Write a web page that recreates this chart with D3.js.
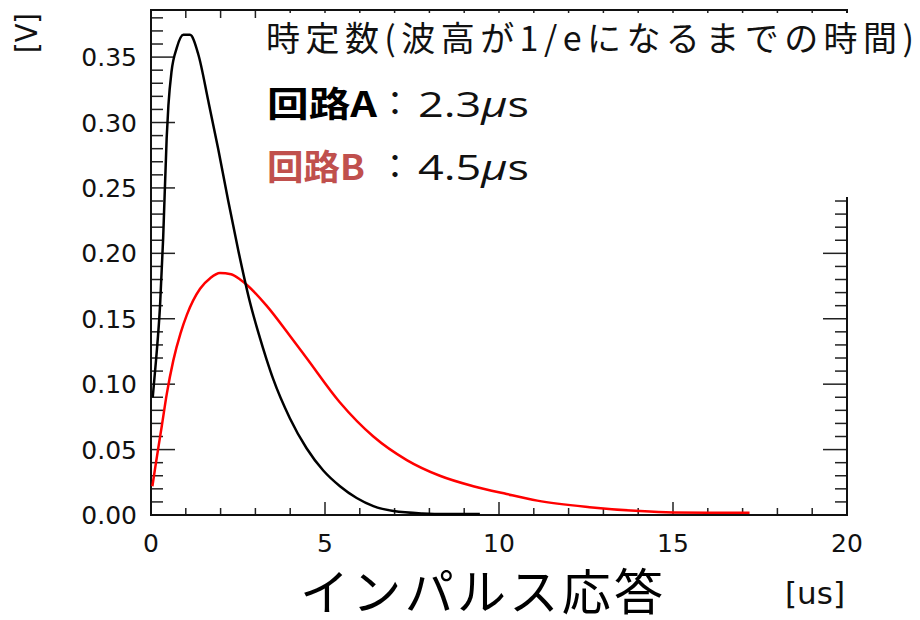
<!DOCTYPE html>
<html><head><meta charset="utf-8">
<script src="https://cdn.jsdelivr.net/npm/d3@7"></script>
<style>
html,body{margin:0;padding:0;background:#fff;}
svg{display:block;}
</style></head>
<body>
<svg id="chart" width="920" height="620"></svg>
<script>
// ---- data ----
const timeA = [0.05, 0.15, 0.26, 0.35, 0.45, 0.50, 0.59, 0.74, 0.93, 1.12, 1.36, 1.65, 1.93, 2.22, 2.51, 2.84, 3.10, 3.32, 3.51, 3.99, 4.47, 4.95, 5.43, 5.91, 6.39, 6.97, 7.80, 8.50, 9.45];
const voltA = [0.090, 0.120, 0.160, 0.212, 0.288, 0.313, 0.339, 0.357, 0.367, 0.367, 0.352, 0.316, 0.280, 0.240, 0.202, 0.163, 0.138, 0.119, 0.104, 0.074, 0.051, 0.034, 0.022, 0.013, 0.0068, 0.0030, 0.0012, 0.0008, 0.0008];
const timeB = [0.04, 0.12, 0.22, 0.31, 0.45, 0.64, 0.85, 1.03, 1.41, 1.70, 1.98, 2.30, 2.56, 2.75, 3.32, 3.99, 4.47, 5.43, 6.39, 7.35, 8.30, 9.26, 10.22, 11.10, 12.60, 14.05, 15.00, 16.00, 17.20];
const voltB = [0.022, 0.036, 0.053, 0.068, 0.092, 0.118, 0.139, 0.153, 0.173, 0.181, 0.185, 0.184, 0.180, 0.176, 0.160, 0.137, 0.120, 0.086, 0.060, 0.042, 0.030, 0.022, 0.016, 0.011, 0.006, 0.003, 0.002, 0.0018, 0.0018];
const xMajorTicks = [0, 5, 10, 15, 20];
const xTickLabels = ["0", "5", "10", "15", "20"];
const yMajorTicks = [0, 0.05, 0.10, 0.15, 0.20, 0.25, 0.30, 0.35];
const yTickLabels = ["0.00", "0.05", "0.10", "0.15", "0.20", "0.25", "0.30", "0.35"];
const xDomain = [0, 20];
const yDomain = [0, 0.386];
const titleText = "インパルス応答";
const xUnit = "[us]";
const yUnit = "[V]";
const noteHeader = "時定数(波高が1/eになるまでの時間)";
const circuitNames = ["回路A", "回路B"];
const circuitTau = ["2.3", "4.5"];

// ---- layout ----
const L = 151, R = 847, T = 10, B = 515;
const svg = d3.select("#chart");
const x = d3.scaleLinear().domain(xDomain).range([L, R]);
const y = d3.scaleLinear().domain(yDomain).range([B, T]);

const tickColor = "#222";
const labelFont = "DejaVu Sans, sans-serif";

const yMinor = d3.range(0, 0.3801, 0.01).map(v => +v.toFixed(2)).filter(v => Math.round(v * 100) % 5 !== 0);

const g = svg.append("g");

// bottom axis ticks (inward)
g.selectAll(".xb").data(x.ticks(20)).enter().append("line")
  .attr("x1", d => x(d)).attr("x2", d => x(d))
  .attr("y1", B).attr("y2", d => B - (xMajorTicks.includes(d) ? 13 : 7))
  .attr("stroke", tickColor).attr("stroke-width", 1.5);
// top axis ticks
g.selectAll(".xt").data(x.ticks(20)).enter().append("line")
  .attr("x1", d => x(d)).attr("x2", d => x(d))
  .attr("y1", T).attr("y2", d => T + (xMajorTicks.includes(d) ? 13 : 8))
  .attr("stroke", tickColor).attr("stroke-width", 1.5);
// left axis ticks
const yAll = yMajorTicks.concat(yMinor);
g.selectAll(".yl").data(yAll).enter().append("line")
  .attr("x1", L).attr("x2", d => L + (yMajorTicks.includes(d) ? 24 : 12))
  .attr("y1", d => y(d)).attr("y2", d => y(d))
  .attr("stroke", tickColor).attr("stroke-width", 1.5);
// right axis ticks
g.selectAll(".yr").data(yAll).enter().append("line")
  .attr("x1", R).attr("x2", d => R - (yMajorTicks.includes(d) ? 24 : 12))
  .attr("y1", d => y(d)).attr("y2", d => y(d))
  .attr("stroke", tickColor).attr("stroke-width", 1.5);

// frame
g.append("rect").attr("x", L).attr("y", T).attr("width", R - L).attr("height", B - T)
  .attr("fill", "none").attr("stroke", "#111").attr("stroke-width", 2);

// curves
const line = d3.line().x(d => x(d[0])).y(d => y(d[1])).curve(d3.curveMonotoneX);
svg.append("path").datum(timeB.map((t, i) => [t, voltB[i]]))
  .attr("d", line).attr("fill", "none").attr("stroke", "#ff0000").attr("stroke-width", 2.5);
svg.append("path").datum(timeA.map((t, i) => [t, voltA[i]]))
  .attr("d", line).attr("fill", "none").attr("stroke", "#000").attr("stroke-width", 2.5);

// tick labels
svg.selectAll(".xl").data(xMajorTicks).enter().append("text")
  .attr("x", d => x(d)).attr("y", 552)
  .attr("text-anchor", "middle").attr("font-family", labelFont).attr("font-size", 25)
  .attr("fill", "#111").text((d, i) => xTickLabels[i]);
svg.selectAll(".yll").data(yMajorTicks).enter().append("text")
  .attr("x", 137).attr("y", d => y(d) + 9)
  .attr("text-anchor", "end").attr("font-family", labelFont).attr("font-size", 25)
  .attr("fill", "#111").text((d, i) => yTickLabels[i]);

// units
svg.append("text").attr("transform", "translate(37,53) rotate(-90)")
  .attr("font-family", labelFont).attr("font-size", 30).attr("fill", "#111")
  .attr("textLength", 40).attr("lengthAdjust", "spacingAndGlyphs").text(yUnit);
svg.append("text").attr("x", 785).attr("y", 604)
  .attr("font-family", labelFont).attr("font-size", 31).attr("fill", "#111")
  .attr("textLength", 60).attr("lengthAdjust", "spacingAndGlyphs").text(xUnit);

// bottom title
svg.append("text").attr("x", 300).attr("y", 610)
  .attr("font-family", "Noto Sans CJK JP, sans-serif").attr("font-size", 49).attr("fill", "#000")
  .attr("textLength", 363).attr("lengthAdjust", "spacing").text(titleText);

// annotation box (white, covers part of the frame)
svg.append("rect").attr("x", 258).attr("y", 13).attr("width", 662).attr("height", 184).attr("fill", "#fff");

const jp = "Noto Sans CJK JP, sans-serif";
svg.append("text").attr("x", 266).attr("y", 51)
  .attr("font-family", jp).attr("font-size", 34).attr("fill", "#111")
  .attr("textLength", 648).attr("lengthAdjust", "spacing").text(noteHeader);

const rowY = [117, 180];
const rowColors = ["#000", "#c0504d"];
const nameLen = [110, 98];
circuitNames.forEach((nm, i) => {
  svg.append("text").attr("x", 267).attr("y", rowY[i])
    .attr("font-family", jp).attr("font-size", 35).attr("font-weight", "bold").attr("fill", rowColors[i])
    .attr("textLength", nameLen[i]).attr("lengthAdjust", "spacingAndGlyphs").text(nm);
  svg.append("text").attr("x", 395).attr("y", rowY[i] - 1).attr("text-anchor", "middle")
    .attr("font-family", jp).attr("font-size", 34).attr("fill", "#111").text("：");
  const t = svg.append("text").attr("x", 418).attr("y", rowY[i])
    .attr("font-family", "Open Sans, sans-serif").attr("font-size", 35).attr("fill", "#111")
    .attr("textLength", 111).attr("lengthAdjust", "spacingAndGlyphs");
  t.append("tspan").text(circuitTau[i]);
  t.append("tspan").attr("font-style", "italic").text("μ");
  t.append("tspan").text("s");
});
</script>
</body></html>
